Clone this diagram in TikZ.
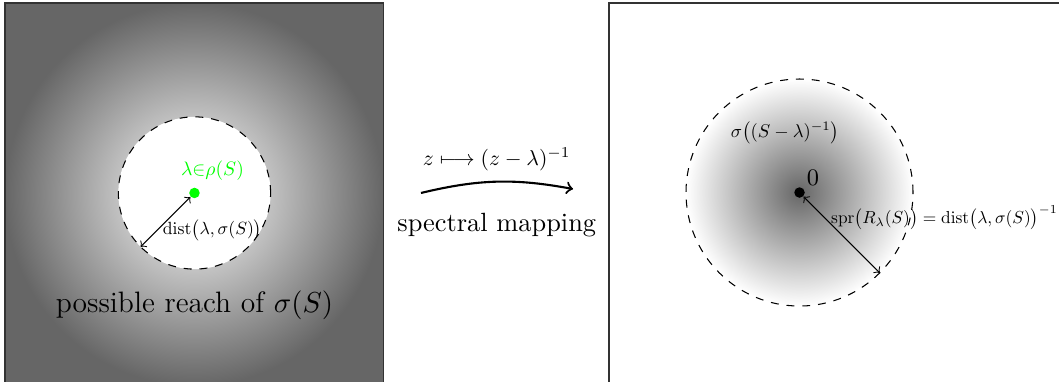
\documentclass[tikz,border=0pt]{standalone}
\usepackage{amsmath,amssymb}
\usepackage{xcolor}
\usetikzlibrary{arrows,positioning}

\begin{document}
\begin{tikzpicture}[>=to]
        \tikzstyle{frame} = [draw=black!80, line width=0.4pt]
        \tikzstyle{disc} = [circle, draw, dashed, inner sep=0pt, outer sep=0pt]
        \tikzstyle{dot} = [circle, inner sep=0pt, minimum size=0.14cm]
        \tikzstyle{radius} = [<->, thin]
        \tikzstyle{tag} = [scale=0.67, transform shape]

        \clip (0,0) rectangle (14.12,5.08);

        % left: resolvent set point and where the spectrum may be
        \node (reach) [frame, rectangle, minimum width=5.04cm, minimum height=5.1cm, inner color=white, outer color=black!60] at (2.587,2.49) {};
        \node (hole) [disc, fill=white, minimum size=2.03cm] at (2.593,2.507) {};
        \node (lam) [dot, fill=green] at (hole) {};
        \node (lamlabel) [above=0pt of lam, xshift=0.24cm, text=green, scale=0.74, transform shape] {$\lambda{\in}\rho(S)$};
        \draw[radius] (lam) -- node[shift={(-0.04,-0.11)}, tag, anchor=west, inner sep=0pt] {$\mathrm{dist}\bigl(\lambda,\sigma(S)\bigr)$} (hole.225);
        \node (reachlabel) [below=0.17cm of hole, font=\fontsize{11.2}{13}\selectfont] {possible reach of $\sigma(S)$};

        % the map
        \coordinate (mapfrom) at (5.613,2.507);
        \coordinate (mapto) at (7.64,2.56);
        \draw[->, thick] (mapfrom) to[bend left=12] node[above=1pt, scale=0.82, transform shape] {$z\longmapsto(z-\lambda)^{-1}$} node[below=0.29cm] {spectral mapping} (mapto);

        % right: spectrum of the resolvent
        \draw[frame] (8.12,-0.2) rectangle (14.5,5.04);
        \node (spec) [disc, minimum size=3.027cm, inner color=black!60, outer color=white] at (10.66,2.513) {};
        \node (zero) [dot, fill=black] at (spec) {};
        \node (zerolabel) [above right=-0.08cm and -0.08cm of zero, font=\small] {$0$};
        \node (speclabel) [tag, scale=1.05] at (10.467,3.307) {$\sigma\bigl((S-\lambda)^{-1}\bigr)$};
        \draw[radius] (zero) -- (spec.-45);
        \node (sprlabel) [tag, scale=0.985, anchor=west] at (11.0,2.18) {$\mathrm{spr}\bigl(R_\lambda(S)\bigr) = \mathrm{dist}\bigl(\lambda,\sigma(S)\bigr)^{-1}$};
    \end{tikzpicture}
\end{document}
